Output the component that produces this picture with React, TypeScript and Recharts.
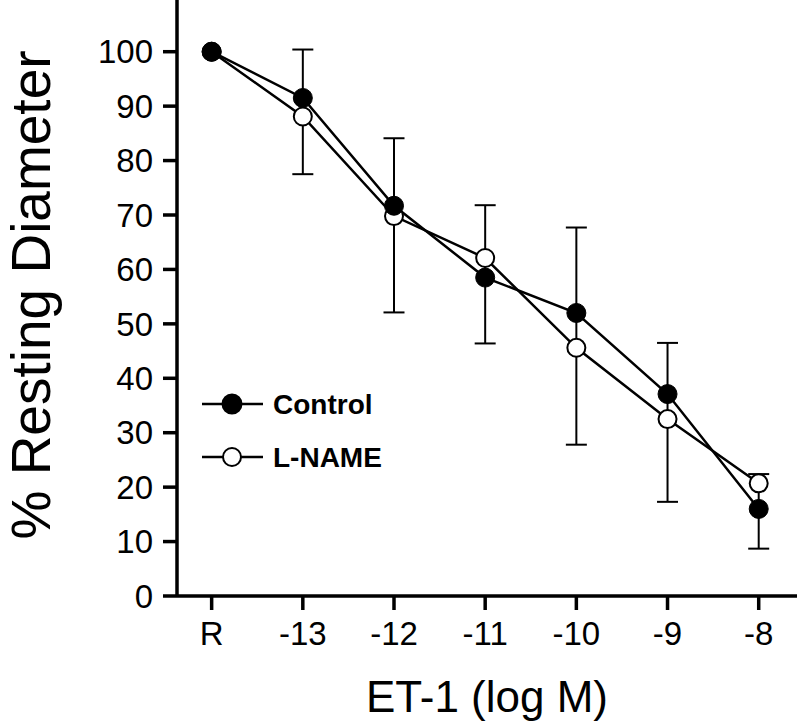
import React from 'react';
import { LineChart, Line, XAxis, YAxis, ErrorBar, Legend } from 'recharts';

const categories = ['R', '-13', '-12', '-11', '-10', '-9', '-8'];
const controlValues = [100, 91.5, 71.7, 58.5, 52.0, 37.1, 16.0];
const lnameValues = [100, 88.1, 69.8, 62.1, 45.6, 32.5, 20.7];
const errorTop: (number | null)[] = [null, 100.4, 84.1, 71.8, 67.7, 46.5, 22.4];
const errorBottom: (number | null)[] = [null, 77.5, 52.1, 46.4, 27.8, 17.3, 8.7];
const yTicks = [0, 10, 20, 30, 40, 50, 60, 70, 80, 90, 100];
const xTicks = [0, 1, 2, 3, 4, 5, 6];
const seriesNames = ['Control', 'L-NAME'];

const FONT = '"Liberation Sans", Arial, sans-serif';

const data = categories.map((c, i) => ({
  x: i,
  label: c,
  control: controlValues[i],
  lname: lnameValues[i],
  errBase: errorBottom[i],
  errSpan:
    errorTop[i] != null && errorBottom[i] != null
      ? [0, (errorTop[i] as number) - (errorBottom[i] as number)]
      : null,
}));

const LegendContent = () => (
  <svg width={260} height={110} style={{ overflow: 'visible' }}>
    {seriesNames.map((name, i) => {
      const cy = 14 + i * 53;
      const filled = i === 0;
      return (
        <g key={name}>
          <line x1={1} x2={62} y1={cy} y2={cy} stroke="#000" strokeWidth={2.5} />
          <circle cx={31} cy={cy} r={filled ? 9.5 : 9} fill={filled ? '#000' : '#fff'} stroke="#000" strokeWidth={2} />
          <text x={72} y={cy + 10} fontFamily={FONT} fontWeight="bold" fontSize={28} fill="#000">
            {name}
          </text>
        </g>
      );
    })}
  </svg>
);

const YLabel = () => {
  const x = 50;
  const y = 295;
  return (
    <text x={x} y={y} transform={`rotate(-90 ${x} ${y})`} textAnchor="middle" fontFamily={FONT} fontSize={55} fill="#000">
      % Resting Diameter
    </text>
  );
};

const XLabel = (props: any) => {
  const vb = props.viewBox || {};
  const x = (vb.x ?? 177) + (vb.width ?? 620) / 2;
  return (
    <text x={x} y={712} textAnchor="middle" fontFamily={FONT} fontSize={44} fill="#000">
      ET-1 (log M)
    </text>
  );
};

export default function App() {
  return (
    <div style={{ position: 'absolute', left: 0, top: 0, width: 797, height: 721, background: '#fff' }}>
      <LineChart width={797} height={721} data={data} margin={{ top: 0, right: 0, bottom: 0, left: 0 }}>
        <XAxis
          dataKey="x"
          type="number"
          domain={[-0.38, 6.42]}
          ticks={xTicks}
          tickFormatter={(v: number) => categories[v] ?? ''}
          height={125}
          axisLine={{ stroke: '#000', strokeWidth: 3.5 }}
          tickLine={{ stroke: '#000', strokeWidth: 3.5 }}
          tickSize={14}
          tickMargin={12}
          tick={{ fill: '#000', fontSize: 33, fontFamily: FONT }}
          allowDataOverflow
          label={<XLabel />}
        />
        <YAxis
          type="number"
          domain={[0, 109.5]}
          ticks={yTicks}
          width={177}
          axisLine={{ stroke: '#000', strokeWidth: 3.5 }}
          tickLine={{ stroke: '#000', strokeWidth: 3.5 }}
          tickSize={14}
          tickMargin={10}
          tick={{ fill: '#000', fontSize: 33, fontFamily: FONT }}
          allowDataOverflow
          interval={0}
          label={<YLabel />}
        />
        <Line
          dataKey="errBase"
          stroke="none"
          dot={false}
          activeDot={false}
          legendType="none"
          isAnimationActive={false}
          connectNulls={false}
        >
          <ErrorBar dataKey="errSpan" width={10.5} stroke="#000" strokeWidth={2} direction="y" />
        </Line>
        <Line
          dataKey="lname"
          name="L-NAME"
          stroke="#000"
          strokeWidth={2.5}
          dot={{ r: 9, fill: '#fff', stroke: '#000', strokeWidth: 2 }}
          activeDot={false}
          isAnimationActive={false}
        />
        <Line
          dataKey="control"
          name="Control"
          stroke="#000"
          strokeWidth={2.5}
          dot={{ r: 9.5, fill: '#000', stroke: '#000', strokeWidth: 1 }}
          activeDot={false}
          isAnimationActive={false}
        />
        <Legend
          layout="vertical"
          align="center"
          verticalAlign="middle"
          content={<LegendContent />}
          wrapperStyle={{ position: 'absolute', left: 201, top: 390, width: 260, height: 110 }}
        />
      </LineChart>
    </div>
  );
}
